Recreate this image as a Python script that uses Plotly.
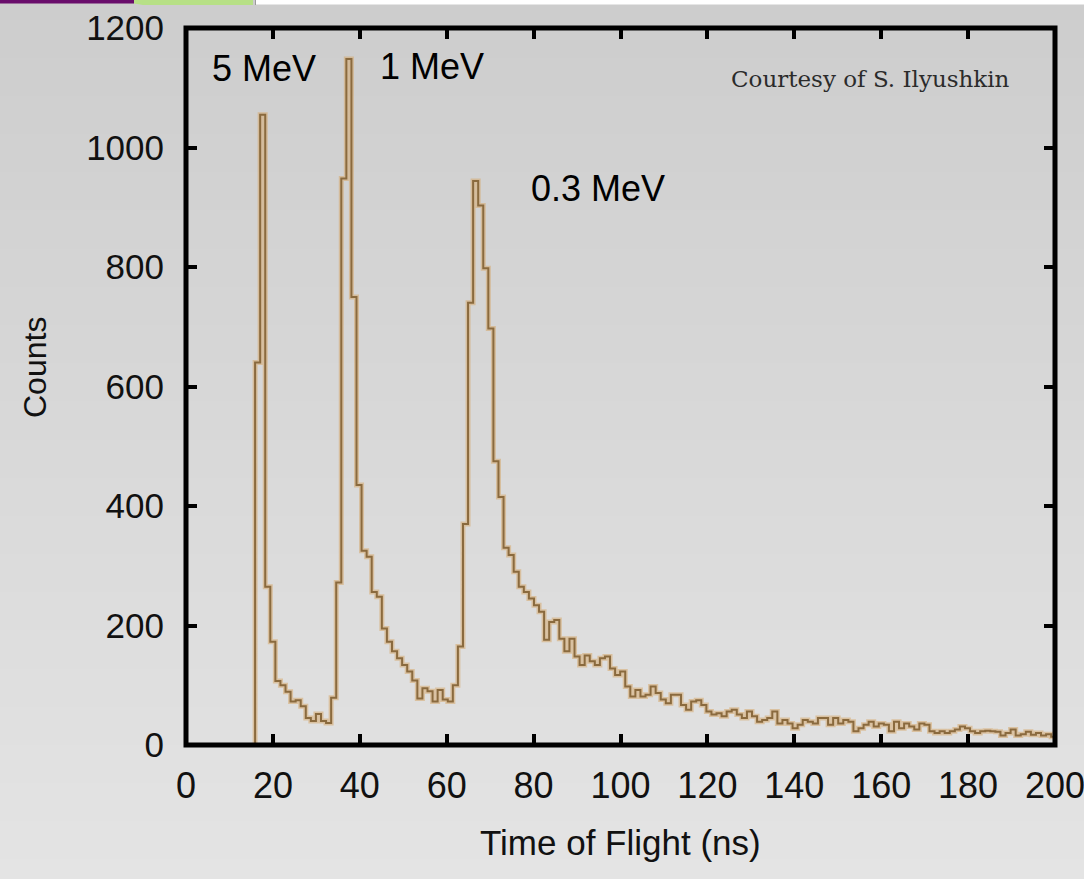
import base64
import struct
import zlib

import plotly.graph_objects as go

# ---------------------------------------------------------------------------
# Neutron time-of-flight histogram (counts per bin)
# ---------------------------------------------------------------------------
bin_start_ns = 15.9
bin_width_ns = 1.167
counts = [
    640, 1055, 265, 173, 107, 100, 89, 73, 75, 65,
    45, 40, 52, 40, 37, 79, 272, 948, 1148, 750,
    435, 325, 315, 256, 248, 195, 173, 157, 145, 134,
    123, 108, 78, 95, 90, 73, 92, 76, 73, 100,
    165, 370, 740, 944, 903, 798, 697, 475, 415, 330,
    318, 290, 265, 256, 245, 234, 223, 176, 206, 209,
    178, 157, 178, 148, 134, 150, 140, 134, 145, 148,
    128, 117, 123, 98, 81, 92, 81, 84, 98, 87,
    76, 70, 84, 84, 67, 59, 73, 75, 67, 56,
    51, 53, 48, 56, 59, 51, 45, 56, 48, 39,
    42, 45, 56, 36, 42, 36, 28, 34, 42, 39,
    36, 45, 45, 34, 45, 36, 42, 39, 23, 28,
    34, 39, 31, 36, 34, 23, 39, 28, 36, 31,
    26, 36, 34, 23, 20, 23, 20, 23, 26, 31,
    28, 23, 20, 23, 24, 23, 22, 16, 20, 26,
    16, 18, 22, 17, 20, 16, 18, 14,
]

x_ticks = [0, 20, 40, 60, 80, 100, 120, 140, 160, 180, 200]
y_ticks = [0, 200, 400, 600, 800, 1000, 1200]
peak_labels = ["5 MeV", "1 MeV", "0.3 MeV"]
credit_text = "Courtesy of S. Ilyushkin"
x_title = "Time of Flight (ns)"
y_title = "Counts"

# ---------------------------------------------------------------------------
# Page geometry
# ---------------------------------------------------------------------------
W, H = 1084, 879
ML, MR, MT, MB = 186, 29, 28, 134
PW, PH = W - ML - MR, H - MT - MB


def px_x(px):
    return (px - ML) / PW


def px_y(py):
    return 1 - (py - MT) / PH


def gradient_png(shades):
    """Build a 1-pixel-wide greyscale PNG, one row per shade."""
    raw = b"".join(b"\x00" + bytes([s, s, s]) for s in shades)

    def chunk(tag, data):
        body = tag + data
        return struct.pack(">I", len(data)) + body + struct.pack(">I", zlib.crc32(body) & 0xFFFFFFFF)

    png = b"\x89PNG\r\n\x1a\n"
    png += chunk(b"IHDR", struct.pack(">IIBBBBB", 1, len(shades), 8, 2, 0, 0, 0))
    png += chunk(b"IDAT", zlib.compress(raw, 9))
    png += chunk(b"IEND", b"")
    return "data:image/png;base64," + base64.b64encode(png).decode()


shades = [int(round(205 + 23 * i / (H - 1))) for i in range(H)]
bg_src = gradient_png(shades)

# step outline of the histogram
edges = [bin_start_ns + i * bin_width_ns for i in range(len(counts) + 1)]
xs = [edges[0]] + edges
ys = [0] + counts + [counts[-1]]

fig = go.Figure()
fig.add_trace(go.Scatter(
    x=xs, y=ys, mode="lines", line_shape="hv",
    line=dict(color="rgba(214,168,108,0.55)", width=5),
    hoverinfo="skip", showlegend=False,
))
fig.add_trace(go.Scatter(
    x=xs, y=ys, mode="lines", line_shape="hv",
    line=dict(color="#8a6a3e", width=2),
    showlegend=False,
))

sans = "Liberation Sans, Arial, sans-serif"
axis_common = dict(
    showline=False, mirror="ticks", automargin=False,
    ticks="inside", ticklen=11, tickwidth=3.5, tickcolor="black",
    showgrid=False, zeroline=False, ticklabeloverflow="allow",
)

fig.update_xaxes(range=[0, 200], tickvals=x_ticks, ticktext=[str(v) for v in x_ticks],
                 ticklabelstandoff=16, tickfont=dict(family=sans, size=36, color="#111111"),
                 **axis_common)
fig.update_yaxes(range=[0, 1200], tickvals=y_ticks, ticktext=[str(v) for v in y_ticks],
                 ticklabelstandoff=21, tickfont=dict(family=sans, size=35, color="#111111"),
                 **axis_common)

annotations = [
    dict(text=peak_labels[0], x=px_x(264), y=px_y(69), font=dict(family=sans, size=36, color="black")),
    dict(text=peak_labels[1], x=px_x(432), y=px_y(67), font=dict(family=sans, size=36, color="black")),
    dict(text=peak_labels[2], x=px_x(598), y=px_y(189), font=dict(family=sans, size=36, color="black")),
    dict(text=credit_text, x=px_x(870), y=px_y(79),
         font=dict(family="DejaVu Serif, Liberation Serif, serif", size=23, color="#2b2b2b")),
    dict(text=x_title, x=0.5, y=px_y(842), font=dict(family=sans, size=35, color="#111111")),
    dict(text=y_title, x=px_x(35), y=px_y(368), textangle=-90,
         font=dict(family=sans, size=32, color="#111111")),
]
for a in annotations:
    a.update(xref="paper", yref="paper", showarrow=False, xanchor="center", yanchor="middle")

shapes = [
    # plot frame, centred on the plot-area edges
    dict(type="rect", x0=0, x1=1, y0=0, y1=1, line=dict(color="black", width=5),
         fillcolor="rgba(0,0,0,0)"),
    # thin slide strip along the top edge
    dict(type="rect", x0=px_x(255), x1=px_x(W), y0=px_y(0), y1=px_y(4.5),
         fillcolor="white", line_width=0),
    dict(type="rect", x0=px_x(0), x1=px_x(134), y0=px_y(0), y1=px_y(3.5),
         fillcolor="#690d6b", line_width=0),
    dict(type="path",
         path=f"M {px_x(134)},{px_y(0)} L {px_x(253)},{px_y(0)} L {px_x(253)},{px_y(5)} "
              f"L {px_x(143)},{px_y(5)} L {px_x(134)},{px_y(3.5)} Z",
         fillcolor="#b7e086", line_width=0),
    dict(type="line", x0=px_x(255.5), x1=px_x(255.5), y0=px_y(0), y1=px_y(5),
         line=dict(color="#9a9a9a", width=1)),
]
for s in shapes:
    s.update(xref="paper", yref="paper", layer="above")

fig.update_layout(
    width=W, height=H,
    margin=dict(l=ML, r=MR, t=MT, b=MB, pad=0, autoexpand=False),
    paper_bgcolor="#d8d8d8",
    plot_bgcolor="rgba(0,0,0,0)",
    images=[dict(source=bg_src, xref="paper", yref="paper",
                 x=px_x(0), y=px_y(0), sizex=W / PW, sizey=H / PH,
                 xanchor="left", yanchor="top", sizing="stretch", layer="below")],
    annotations=annotations,
    shapes=shapes,
    showlegend=False,
)

fig.write_html("out.html")
